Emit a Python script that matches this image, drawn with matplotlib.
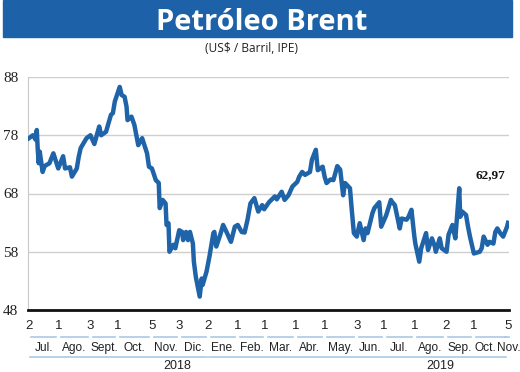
import numpy as np
import pandas as pd
import matplotlib
matplotlib.use("Agg")
import matplotlib.pyplot as plt
import matplotlib.dates as mdates
from matplotlib.patches import Rectangle
from matplotlib import transforms, font_manager

BLUE = "#1d62a9"
LINE = "#1f63a8"
PALE = "#a9c9e6"
_names = {f.name for f in font_manager.fontManager.ttflist}
NARROW = "Liberation Sans Narrow" if "Liberation Sans Narrow" in _names else "Liberation Sans"
SERIF = "Liberation Serif"

# ---- data (Brent, US$/barril) ----
dates = ["2018-07-02", "2018-07-06", "2018-07-09", "2018-07-10", "2018-07-11", "2018-07-12",
         "2018-07-13", "2018-07-16", "2018-07-18", "2018-07-23", "2018-07-27", "2018-08-01",
         "2018-08-06", "2018-08-08", "2018-08-13", "2018-08-15", "2018-08-20", "2018-08-22",
         "2018-08-24", "2018-08-30", "2018-09-03", "2018-09-07", "2018-09-12", "2018-09-14",
         "2018-09-19", "2018-09-24", "2018-09-26", "2018-09-28", "2018-10-03", "2018-10-05",
         "2018-10-08", "2018-10-10", "2018-10-11", "2018-10-15", "2018-10-18", "2018-10-22",
         "2018-10-26", "2018-10-31", "2018-11-02", "2018-11-05", "2018-11-09", "2018-11-12",
         "2018-11-13", "2018-11-16", "2018-11-19", "2018-11-20", "2018-11-22", "2018-11-23",
         "2018-11-27", "2018-11-29", "2018-12-03", "2018-12-06", "2018-12-07", "2018-12-10",
         "2018-12-12", "2018-12-14", "2018-12-17", "2018-12-18", "2018-12-20", "2018-12-24",
         "2018-12-26", "2018-12-27", "2018-12-31", "2019-01-03", "2019-01-07", "2019-01-08",
         "2019-01-10", "2019-01-14", "2019-01-17", "2019-01-21", "2019-01-25", "2019-01-29",
         "2019-02-01", "2019-02-05", "2019-02-08", "2019-02-11", "2019-02-14", "2019-02-18",
         "2019-02-22", "2019-02-26", "2019-02-28", "2019-03-05", "2019-03-11", "2019-03-13",
         "2019-03-18", "2019-03-21", "2019-03-25", "2019-03-29", "2019-04-03", "2019-04-05",
         "2019-04-08", "2019-04-11", "2019-04-16", "2019-04-18", "2019-04-22", "2019-04-24",
         "2019-04-29", "2019-05-01", "2019-05-03", "2019-05-07", "2019-05-10", "2019-05-14",
         "2019-05-17", "2019-05-20", "2019-05-22", "2019-05-27", "2019-05-29", "2019-05-31",
         "2019-06-03", "2019-06-06", "2019-06-10", "2019-06-12", "2019-06-14", "2019-06-19",
         "2019-06-21", "2019-06-26", "2019-06-28", "2019-07-03", "2019-07-08", "2019-07-09",
         "2019-07-12", "2019-07-17", "2019-07-19", "2019-07-24", "2019-07-26", "2019-07-29",
         "2019-08-01", "2019-08-02", "2019-08-06", "2019-08-08", "2019-08-13", "2019-08-15",
         "2019-08-19", "2019-08-22", "2019-08-23", "2019-08-27", "2019-08-29", "2019-09-03",
         "2019-09-05", "2019-09-09", "2019-09-12", "2019-09-13", "2019-09-16", "2019-09-17",
         "2019-09-19", "2019-09-23", "2019-09-25", "2019-09-27", "2019-10-01", "2019-10-07",
         "2019-10-09", "2019-10-11", "2019-10-15", "2019-10-17", "2019-10-21", "2019-10-23",
         "2019-10-25", "2019-10-28", "2019-10-31", "2019-11-04", "2019-11-05"]
brent = [77.5, 78.0, 77.2, 78.9, 75.5, 73.2,
         75.2, 71.7, 72.7, 73.2, 74.9, 72.3,
         74.4, 72.3, 72.5, 70.9, 72.3, 74.3,
         75.8, 77.5, 78.0, 76.5, 79.5, 78.0,
         78.6, 81.5, 81.8, 83.8, 86.3, 84.9,
         84.6, 82.9, 80.6, 81.2, 79.8, 76.3,
         77.5, 74.9, 72.6, 72.3, 70.3, 69.8,
         65.5, 66.9, 66.3, 62.6, 62.9, 58.0,
         59.2, 58.6, 61.7, 61.4, 60.0, 61.4,
         60.0, 61.4, 59.4, 56.3, 53.7, 50.3,
         53.4, 52.3, 54.6, 57.2, 61.2, 61.4,
         58.9, 60.9, 62.6, 61.2, 59.7, 62.3,
         62.6, 61.4, 61.3, 63.5, 66.3, 67.2,
         64.9, 66.0, 65.3, 66.5, 67.5, 67.0,
         68.3, 66.9, 67.7, 69.2, 70.0, 70.9,
         71.7, 71.2, 71.7, 73.8, 75.5, 72.0,
         72.6, 70.9, 69.8, 70.4, 70.3, 72.7,
         72.1, 67.7, 69.8, 68.9, 64.9, 61.2,
         60.6, 62.9, 60.0, 62.0, 61.2, 64.6,
         65.5, 66.5, 62.3, 64.2, 66.9, 66.6,
         66.0, 62.0, 63.7, 63.5, 64.0, 65.2,
         60.6, 59.4, 56.3, 58.6, 61.2, 58.3,
         60.3, 58.9, 58.0, 60.3, 58.6, 58.0,
         60.9, 62.6, 60.3, 62.4, 68.9, 64.0,
         64.9, 64.3, 62.3, 60.6, 57.7, 58.0,
         58.6, 60.6, 59.2, 59.7, 59.4, 61.4,
         62.0, 61.2, 60.6, 62.3, 62.97]

# first quoted day of each month (printed under the axis)
tick_dates = ["2018-07-02", "2018-08-01", "2018-09-03", "2018-10-01", "2018-11-05",
              "2018-12-03", "2019-01-02", "2019-02-01", "2019-03-01", "2019-04-01",
              "2019-05-01", "2019-06-03", "2019-07-01", "2019-08-01", "2019-09-02",
              "2019-10-01", "2019-11-05"]
months = ["Jul.", "Ago.", "Sept.", "Oct.", "Nov.", "Dic.", "Ene.", "Feb.", "Mar.",
          "Abr.", "May.", "Jun.", "Jul.", "Ago.", "Sep.", "Oct.", "Nov."]
years = ["2018", "2019"]
year_spans = [("2018-07-02", "2019-01-02"), ("2019-01-02", "2019-11-05")]
year_label_at = ["2018-12-01", "2019-08-28"]

x = pd.to_datetime(dates)
ticks = pd.to_datetime(tick_dates)

fig = plt.figure(figsize=(5.2, 3.72), dpi=100)
ax = fig.add_axes([28 / 520, 1 - 310 / 372, 481 / 520, 233 / 372])

# title band
fig.patches.append(Rectangle((3 / 520, 1 - 37 / 372), 509 / 520, 37 / 372,
                             transform=fig.transFigure, color=BLUE, zorder=0))
fig.text(0.504, 1 - 30 / 372, "Petróleo Brent", color="white", fontsize=21,
         fontweight="bold", family="Open Sans", ha="center", va="baseline")
fig.text(0.484, 1 - 48 / 372, "(US$ / Barril, IPE)", color="#222222", fontsize=8.6,
         family="Open Sans", ha="center", va="center")

ax.plot(x, brent, color=LINE, lw=3.2, solid_joinstyle="round", zorder=3)
ax.annotate("62,97", (x[-1], brent[-1]), xytext=(-13, 34), textcoords="offset points",
            ha="center", va="center", fontsize=9.5, fontweight="bold",
            family=SERIF, color="#111111")

ax.set_ylim(48, 88)
ax.set_yticks([48, 58, 68, 78, 88])
ax.set_xlim(pd.Timestamp("2018-07-01"), pd.Timestamp("2019-11-06"))
ax.grid(axis="y", color="#cfcfcf", lw=1.0)
ax.set_axisbelow(True)
ax.spines[["top", "right"]].set_visible(False)
ax.spines["left"].set_color("#c8c8c8")
ax.spines["bottom"].set_color("#111111")
ax.spines["bottom"].set_linewidth(2.0)
ax.tick_params(axis="y", length=0, pad=7, labelsize=11, labelcolor="#222222",
               labelfontfamily=SERIF)

ax.set_xticks(ticks)
ax.set_xticklabels([str(d.day) for d in ticks])
ax.tick_params(axis="x", length=0, pad=7, labelsize=9.5, labelcolor="#222222",
               labelfontfamily=NARROW)

# month and year rows under the axis
trans = transforms.blended_transform_factory(ax.transData, fig.transFigure)
num = mdates.date2num(ticks)
gap = 2.5
for i, m in enumerate(months):
    if i < len(months) - 2:
        a, b = num[i] + gap, num[i + 1] - gap
        mid = (num[i] + num[i + 1]) / 2
    elif i == len(months) - 2:
        a, b = num[i] + gap, num[i + 1] - gap
        mid = (num[i] + num[i + 1]) / 2 - 6
    else:
        a, b = num[i] - 3, num[i] + 1
        mid = num[i] + 0.5
    ax.plot([a, b], [1 - 337 / 372] * 2, color=PALE, lw=1.2, transform=trans,
            clip_on=False)
    fig.text(mid, 1 - 348 / 372, m, transform=trans, ha="center", va="center",
             fontsize=8.6, color="#222222", family=NARROW)

for (s, e), yr, at in zip(year_spans, years, year_label_at):
    a = mdates.date2num(pd.Timestamp(s)) + 1
    b = mdates.date2num(pd.Timestamp(e)) - 2
    ax.plot([a, b], [1 - 357 / 372] * 2, color=PALE, lw=1.2, transform=trans,
            clip_on=False)
    fig.text(mdates.date2num(pd.Timestamp(at)), 1 - 366 / 372, yr, transform=trans,
             ha="center", va="center", fontsize=9, color="#222222", family=NARROW)

fig.savefig("out.png", dpi=100)
